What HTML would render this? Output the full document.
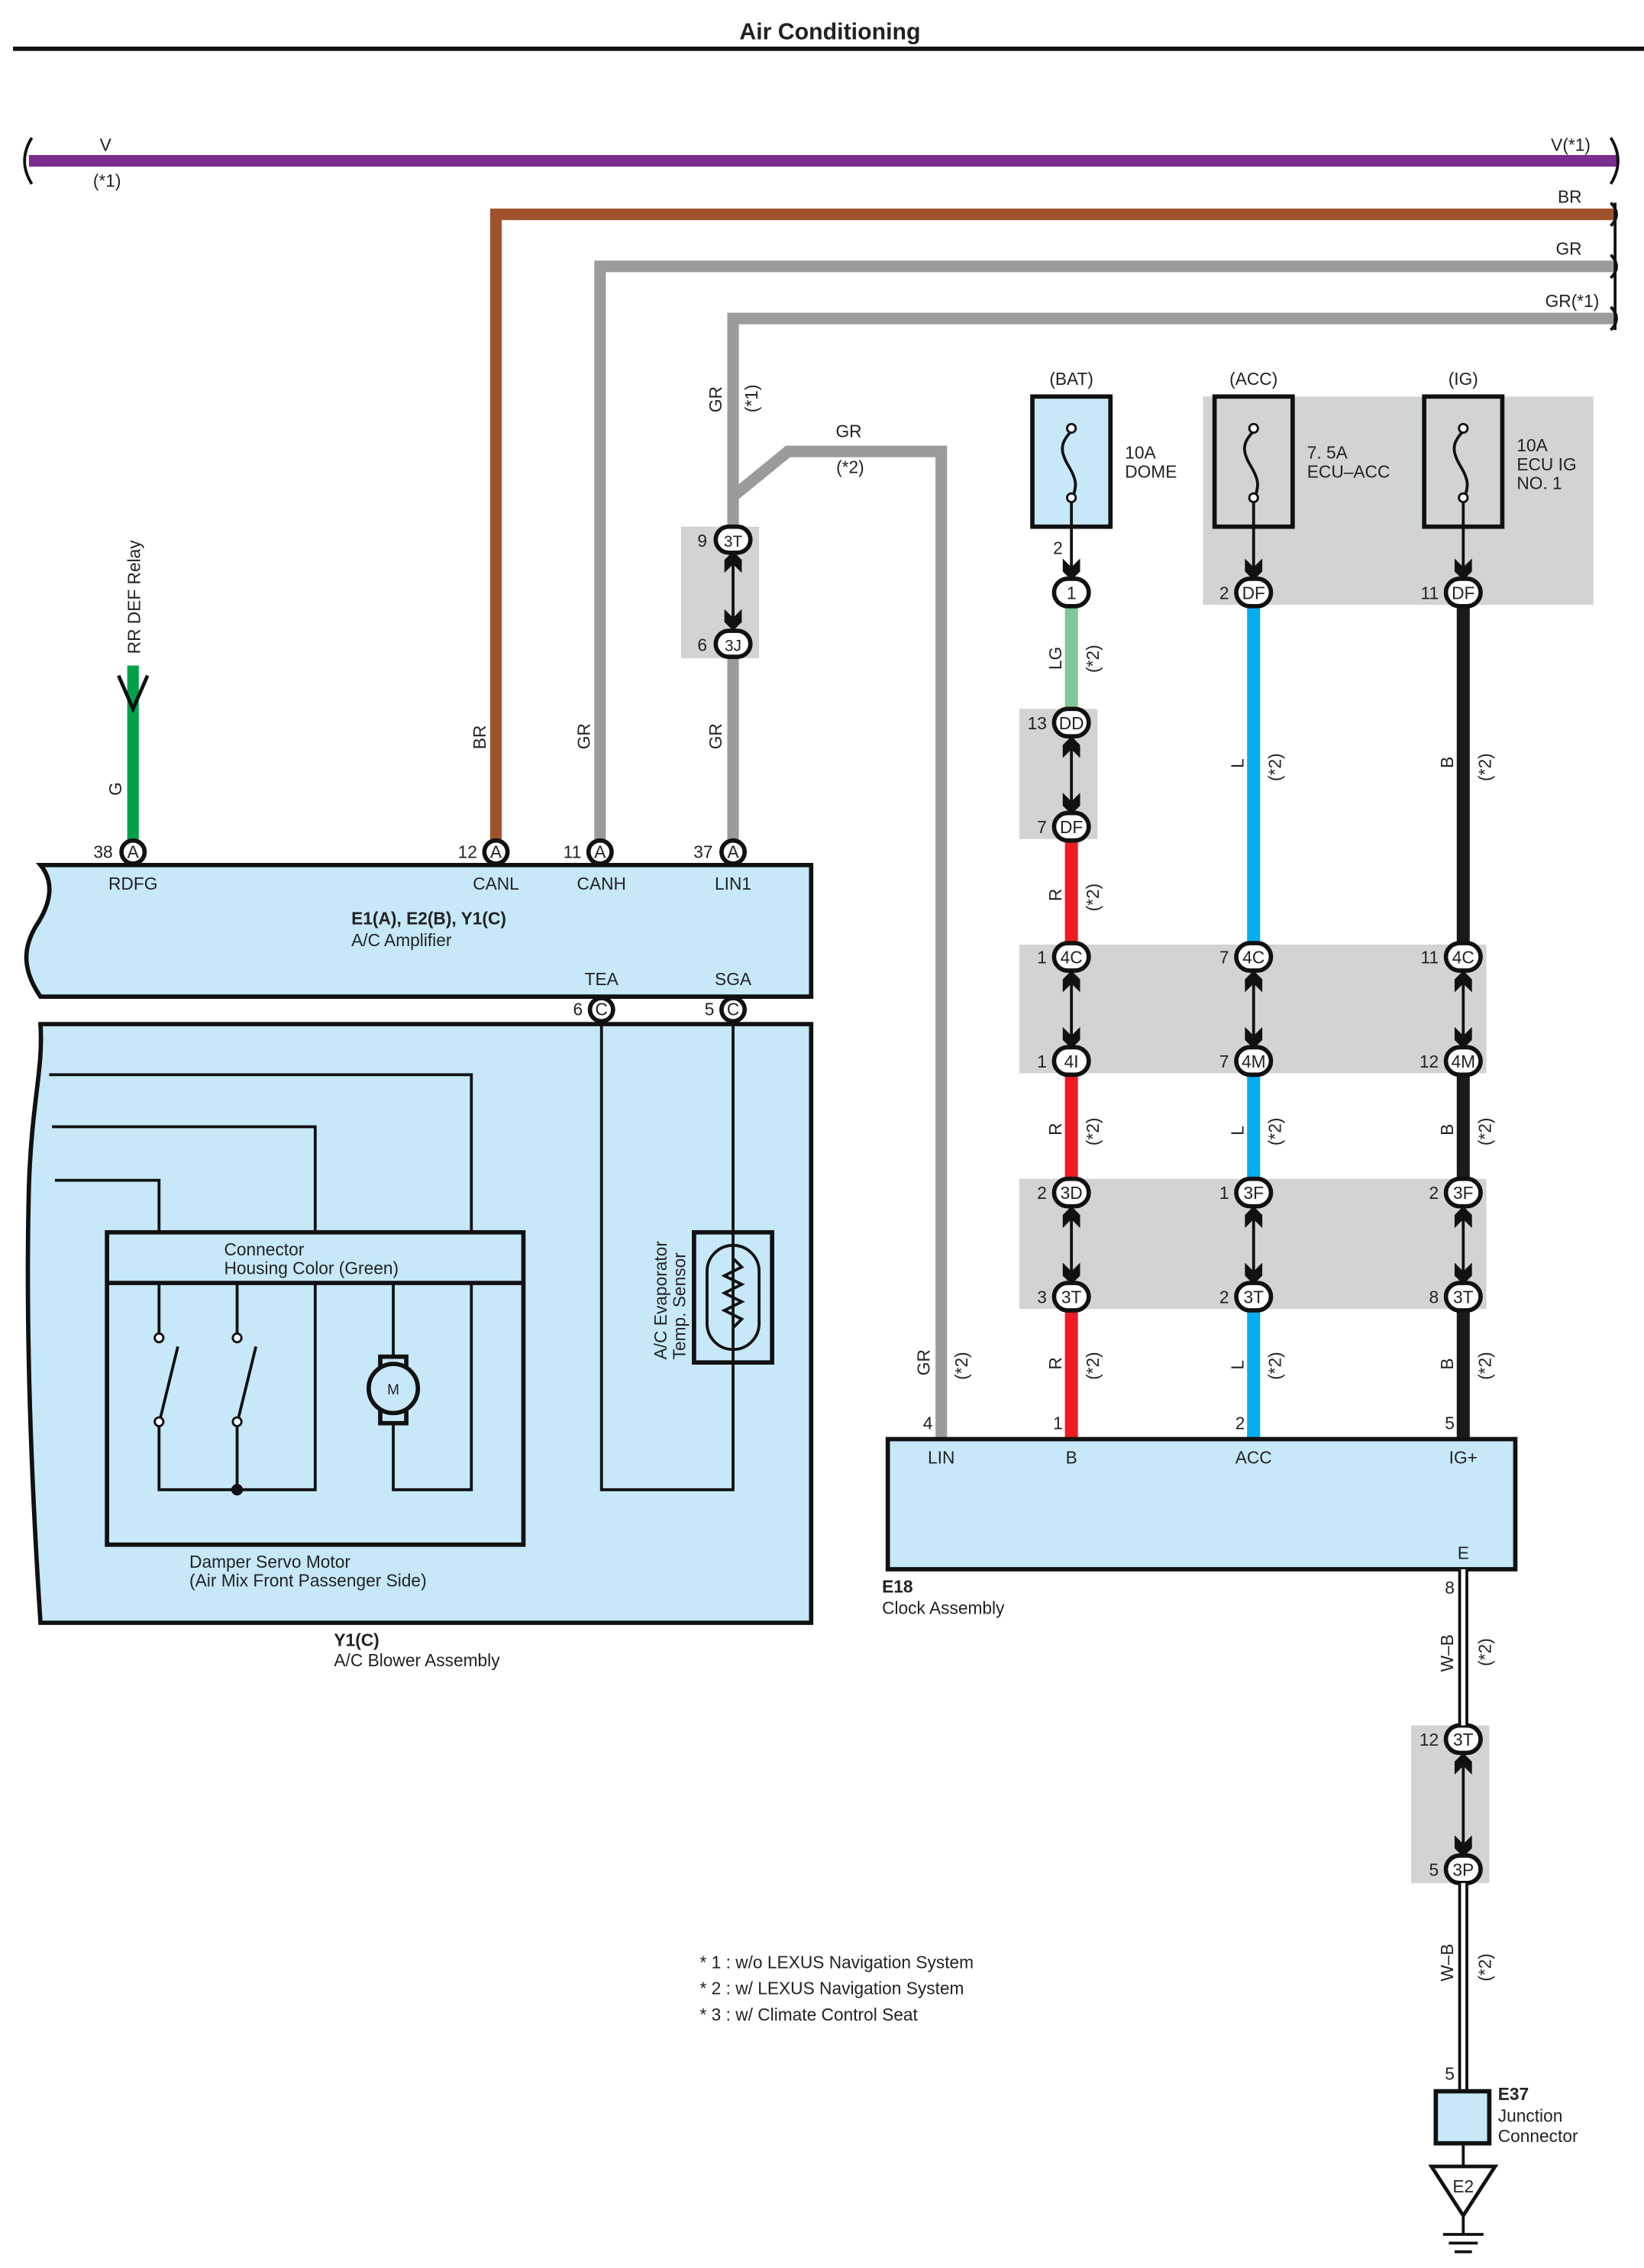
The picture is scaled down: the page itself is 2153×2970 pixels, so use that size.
<!DOCTYPE html>
<html><head><meta charset="utf-8"><style>
html,body{margin:0;padding:0;background:#fff}
svg{display:block}
text{font-family:"Liberation Sans",Arial,sans-serif;font-size:12px;fill:#222}
.c{text-anchor:middle}
.r{text-anchor:end}
.b{font-weight:bold}
</style></head><body>
<svg width="2153" height="2970" viewBox="0 0 1137 1568" xmlns="http://www.w3.org/2000/svg">
<defs>
<path id="dn" d="M-6,-14 L0,-8 L6,-14 L6,-5 L0,1 L-6,-5 Z" fill="#111"/>
<path id="up" d="M-6,14 L0,8 L6,14 L6,5 L0,-1 L-6,5 Z" fill="#111"/>
</defs>
<text x="574" y="27" class="c b" style="font-size:16px">Air Conditioning</text>
<rect x="9" y="32" width="1128" height="3" fill="#111"/>

<g fill="#d1d3d4">
<rect x="832" y="274" width="270" height="144"/>
<rect x="471" y="364" width="54" height="91"/>
<rect x="705" y="490" width="54" height="90"/>
<rect x="705" y="653" width="323" height="89"/>
<rect x="705" y="815" width="323" height="90"/>
<rect x="976" y="1193" width="54" height="109"/>
</g>

<path d="M20,111 H1118" stroke="#7b2c8c" stroke-width="8" fill="none"/>
<path d="M22,95 q-10,16 0,32 M1114,95 q10,16 0,32" stroke="#111" stroke-width="2" fill="none"/>
<path d="M343,583 V148 H1118" stroke="#a0522d" stroke-width="8" fill="none"/>
<path d="M415,583 V184 H1118" stroke="#9b9b9b" stroke-width="8" fill="none"/>
<path d="M507,365 V220 H1118" stroke="#9b9b9b" stroke-width="8" fill="none"/>
<path d="M507,343 L545,312 H651 V995" stroke="#9b9b9b" stroke-width="8" fill="none"/>
<path d="M507,452 V583" stroke="#9b9b9b" stroke-width="8" fill="none"/>
<path d="M1114,140 q8,8 0,16 M1114,176 q8,8 0,16 M1114,212 q8,8 0,16 M1117,140 v88" stroke="#111" stroke-width="2" fill="none"/>
<text x="73" y="104" class="c">V</text>
<text x="74" y="129" class="c">(*1)</text>
<text x="1100" y="104" class="r">V(*1)</text>
<text x="1094" y="140" class="r">BR</text>
<text x="1094" y="176" class="r">GR</text>
<text x="1106" y="212" class="r">GR(*1)</text>
<text x="587" y="302" class="c">GR</text>
<text x="588" y="327" class="c">(*2)</text>

<path d="M92,583 V460" stroke="#00a14b" stroke-width="8" fill="none"/>
<path d="M82,467 L92,490 L102,467" stroke="#111" stroke-width="2.5" fill="none"/>
<text transform="translate(97,452) rotate(-90)">RR DEF Relay</text>
<text transform="translate(84,550) rotate(-90)">G</text>
<text transform="translate(336,518) rotate(-90)">BR</text>
<text transform="translate(408,518) rotate(-90)">GR</text>
<text transform="translate(499,518) rotate(-90)">GR</text>
<text transform="translate(499,285) rotate(-90)">GR</text>
<text transform="translate(524,285) rotate(-90)">(*1)</text>

<g stroke="#111" stroke-width="2"><line x1="507" y1="380" x2="507" y2="436"/></g>
<use href="#up" x="507" y="382"/><use href="#dn" x="507" y="435"/>
<rect x="495" y="364" width="24" height="18" rx="9" fill="#fff" stroke="#111" stroke-width="3"/>
<text x="507" y="378" class="c" style="font-size:11px">3T</text><text x="489" y="378" class="r">9</text>
<rect x="495" y="436" width="24" height="18" rx="9" fill="#fff" stroke="#111" stroke-width="3"/>
<text x="507" y="450" class="c" style="font-size:11px">3J</text><text x="489" y="450" class="r">6</text>

<path d="M28,598 H561 V689 H28 C15,670 16,655 25,640 C35,625 38,610 28,598 Z" fill="#c6e8f8" stroke="#111" stroke-width="3"/>
<g fill="#fff" stroke="#111" stroke-width="3">
<circle cx="92" cy="589" r="8"/><circle cx="343" cy="589" r="8"/><circle cx="415" cy="589" r="8"/><circle cx="507" cy="589" r="8"/>
<circle cx="416" cy="698" r="8"/><circle cx="507" cy="698" r="8"/>
</g>
<g style="font-size:10px" class="c"><text x="92" y="593">A</text><text x="343" y="593">A</text><text x="415" y="593">A</text><text x="507" y="593">A</text><text x="416" y="702">C</text><text x="507" y="702">C</text></g>
<text x="78" y="593" class="r">38</text><text x="330" y="593" class="r">12</text><text x="402" y="593" class="r">11</text><text x="493" y="593" class="r">37</text>
<text x="403" y="702" class="r">6</text><text x="494" y="702" class="r">5</text>
<text x="92" y="615" class="c">RDFG</text><text x="343" y="615" class="c">CANL</text><text x="416" y="615" class="c">CANH</text><text x="507" y="615" class="c">LIN1</text>
<text x="243" y="639" class="b">E1(A), E2(B), Y1(C)</text><text x="243" y="654">A/C Amplifier</text>
<text x="416" y="681" class="c">TEA</text><text x="507" y="681" class="c">SGA</text>

<path d="M28,708 H561 V1122 H28 C20,1000 18,900 20,820 C22,760 30,740 28,708 Z" fill="#c6e8f8" stroke="#111" stroke-width="3"/>
<g fill="none" stroke="#111" stroke-width="2">
<path d="M34,743 H326 V852"/><path d="M36,779 H218 V852"/><path d="M38,816 H110 V852"/>
<rect x="74" y="852" width="288" height="216" stroke-width="3"/>
<line x1="74" y1="887" x2="362" y2="887" stroke-width="3"/>
<path d="M110,887 V925 M110,983 V1030 H218 V887 M164,887 V925 M164,983 V1030"/>
<path d="M111,980 L123,931 M165,980 L177,931"/>
<path d="M272,887 V937 M272,983 V1030 H326 V887"/>
<path d="M416,706 V1030 H507 V706"/>
<rect x="480" y="852" width="54" height="90" stroke-width="3"/>
<rect x="489" y="861" width="36" height="72" rx="18"/>
<path d="M507,870 l6,6 l-12,6 l12,6 l-12,6 l12,6 l-12,6 l12,6 l-6,6"/>
</g>
<g fill="#fff" stroke="#111" stroke-width="1.5"><circle cx="110" cy="925" r="3"/><circle cx="110" cy="983" r="3"/><circle cx="164" cy="925" r="3"/><circle cx="164" cy="983" r="3"/></g>
<circle cx="164" cy="1030" r="4" fill="#111"/>
<rect x="263" y="938" width="18" height="46" fill="none" stroke="#111" stroke-width="3"/>
<circle cx="272" cy="960" r="17" fill="#c6e8f8" stroke="#111" stroke-width="3"/>
<text x="272" y="964" class="c" style="font-size:10px">M</text>
<text x="155" y="868">Connector</text><text x="155" y="881">Housing Color (Green)</text>
<text x="131" y="1084">Damper Servo Motor</text><text x="131" y="1097">(Air Mix Front Passenger Side)</text>
<text transform="translate(461,940) rotate(-90)">A/C Evaporator</text>
<text transform="translate(474,940) rotate(-90)">Temp.  Sensor</text>
<text x="231" y="1138" class="b">Y1(C)</text><text x="231" y="1152">A/C Blower Assembly</text>

<g stroke="#111" stroke-width="3">
<rect x="714" y="274" width="54" height="90" fill="#c6e8f8"/>
<rect x="840" y="274" width="54" height="90" fill="#d1d3d4"/>
<rect x="985" y="274" width="54" height="90" fill="#d1d3d4"/>
</g>
<g fill="none" stroke="#111" stroke-width="2">
<path d="M741,298 c-8,8 -8,14 -2,24 c6,10 6,14 2,24"/>
<path d="M867,298 c-8,8 -8,14 -2,24 c6,10 6,14 2,24"/>
<path d="M1012,298 c-8,8 -8,14 -2,24 c6,10 6,14 2,24"/>
<path d="M741,346 V398 M867,346 V398 M1012,346 V398"/>
</g>
<g fill="#fff" stroke="#111" stroke-width="1.5">
<circle cx="741" cy="296" r="3"/><circle cx="741" cy="344" r="3"/><circle cx="867" cy="296" r="3"/><circle cx="867" cy="344" r="3"/><circle cx="1012" cy="296" r="3"/><circle cx="1012" cy="344" r="3"/></g>
<use href="#dn" x="741" y="400"/><use href="#dn" x="867" y="400"/><use href="#dn" x="1012" y="400"/>
<text x="741" y="266" class="c">(BAT)</text><text x="867" y="266" class="c">(ACC)</text><text x="1012" y="266" class="c">(IG)</text>
<text x="778" y="317">10A</text><text x="778" y="330">DOME</text>
<text x="904" y="317">7. 5A</text><text x="904" y="330">ECU–ACC</text>
<text x="1049" y="312">10A</text><text x="1049" y="325">ECU IG</text><text x="1049" y="338">NO. 1</text>
<text x="735" y="383" class="r">2</text>

<g fill="none" stroke-width="9">
<path d="M741,418 V492" stroke="#7dc79a"/>
<path d="M741,580 V655 M741,742 V818 M741,905 V995" stroke="#ed1c24"/>
<path d="M867,418 V655 M867,742 V818 M867,905 V995" stroke="#00aeef"/>
<path d="M1012,418 V655 M1012,742 V818 M1012,905 V995" stroke="#1a1a1a"/>
</g>
<g stroke="#111" stroke-width="2">
<line x1="741" y1="516" x2="741" y2="562"/>
<line x1="741" y1="679" x2="741" y2="725"/><line x1="867" y1="679" x2="867" y2="725"/><line x1="1012" y1="679" x2="1012" y2="725"/>
<line x1="741" y1="842" x2="741" y2="888"/><line x1="867" y1="842" x2="867" y2="888"/><line x1="1012" y1="842" x2="1012" y2="888"/>
<line x1="1012" y1="1220" x2="1012" y2="1284"/>
</g>
<g>
<use href="#up" x="741" y="510"/><use href="#dn" x="741" y="562"/>
<use href="#up" x="741" y="672"/><use href="#dn" x="741" y="724"/>
<use href="#up" x="867" y="672"/><use href="#dn" x="867" y="724"/>
<use href="#up" x="1012" y="672"/><use href="#dn" x="1012" y="724"/>
<use href="#up" x="741" y="835"/><use href="#dn" x="741" y="887"/>
<use href="#up" x="867" y="835"/><use href="#dn" x="867" y="887"/>
<use href="#up" x="1012" y="835"/><use href="#dn" x="1012" y="887"/>
<use href="#up" x="1012" y="1213"/><use href="#dn" x="1012" y="1283"/>
</g>
<g fill="#fff" stroke="#111" stroke-width="3">
<rect x="729" y="400" width="24" height="19" rx="9.5"/>
<rect x="855" y="400" width="24" height="19" rx="9.5"/><rect x="1000" y="400" width="24" height="19" rx="9.5"/>
<rect x="729" y="490" width="24" height="19" rx="9.5"/><rect x="729" y="562" width="24" height="19" rx="9.5"/>
<rect x="729" y="652" width="24" height="19" rx="9.5"/><rect x="855" y="652" width="24" height="19" rx="9.5"/><rect x="1000" y="652" width="24" height="19" rx="9.5"/>
<rect x="729" y="724" width="24" height="19" rx="9.5"/><rect x="855" y="724" width="24" height="19" rx="9.5"/><rect x="1000" y="724" width="24" height="19" rx="9.5"/>
<rect x="729" y="815" width="24" height="19" rx="9.5"/><rect x="855" y="815" width="24" height="19" rx="9.5"/><rect x="1000" y="815" width="24" height="19" rx="9.5"/>
<rect x="729" y="887" width="24" height="19" rx="9.5"/><rect x="855" y="887" width="24" height="19" rx="9.5"/><rect x="1000" y="887" width="24" height="19" rx="9.5"/>
<rect x="1000" y="1193" width="24" height="19" rx="9.5"/><rect x="1000" y="1283" width="24" height="19" rx="9.5"/>
</g>
<g class="c" style="font-size:11px">
<text x="741" y="414" class="c">1</text><text x="867" y="414" class="c">DF</text><text x="1012" y="414" class="c">DF</text>
<text x="741" y="504" class="c">DD</text><text x="741" y="576" class="c">DF</text>
<text x="741" y="666" class="c">4C</text><text x="867" y="666" class="c">4C</text><text x="1012" y="666" class="c">4C</text>
<text x="741" y="738" class="c">4I</text><text x="867" y="738" class="c">4M</text><text x="1012" y="738" class="c">4M</text>
<text x="741" y="829" class="c">3D</text><text x="867" y="829" class="c">3F</text><text x="1012" y="829" class="c">3F</text>
<text x="741" y="901" class="c">3T</text><text x="867" y="901" class="c">3T</text><text x="1012" y="901" class="c">3T</text>
<text x="1012" y="1207" class="c">3T</text><text x="1012" y="1297" class="c">3P</text>
</g>
<g class="r">
<text x="850" y="414" class="r">2</text><text x="995" y="414" class="r">11</text>
<text x="724" y="504" class="r">13</text><text x="724" y="576" class="r">7</text>
<text x="724" y="666" class="r">1</text><text x="850" y="666" class="r">7</text><text x="995" y="666" class="r">11</text>
<text x="724" y="738" class="r">1</text><text x="850" y="738" class="r">7</text><text x="995" y="738" class="r">12</text>
<text x="724" y="829" class="r">2</text><text x="850" y="829" class="r">1</text><text x="995" y="829" class="r">2</text>
<text x="724" y="901" class="r">3</text><text x="850" y="901" class="r">2</text><text x="995" y="901" class="r">8</text>
<text x="995" y="1207" class="r">12</text><text x="995" y="1297" class="r">5</text>
</g>
<g>
<text transform="translate(734,463) rotate(-90)">LG</text><text transform="translate(760,465) rotate(-90)">(*2)</text>
<text transform="translate(734,623) rotate(-90)">R</text><text transform="translate(760,630) rotate(-90)">(*2)</text>
<text transform="translate(734,785) rotate(-90)">R</text><text transform="translate(760,792) rotate(-90)">(*2)</text>
<text transform="translate(734,947) rotate(-90)">R</text><text transform="translate(760,954) rotate(-90)">(*2)</text>
<text transform="translate(860,531) rotate(-90)">L</text><text transform="translate(886,540) rotate(-90)">(*2)</text>
<text transform="translate(860,785) rotate(-90)">L</text><text transform="translate(886,792) rotate(-90)">(*2)</text>
<text transform="translate(860,947) rotate(-90)">L</text><text transform="translate(886,954) rotate(-90)">(*2)</text>
<text transform="translate(1005,531) rotate(-90)">B</text><text transform="translate(1031,540) rotate(-90)">(*2)</text>
<text transform="translate(1005,785) rotate(-90)">B</text><text transform="translate(1031,792) rotate(-90)">(*2)</text>
<text transform="translate(1005,947) rotate(-90)">B</text><text transform="translate(1031,954) rotate(-90)">(*2)</text>
<text transform="translate(643,951) rotate(-90)">GR</text><text transform="translate(669,954) rotate(-90)">(*2)</text>
<text transform="translate(1005,1156) rotate(-90)">W–B</text><text transform="translate(1031,1152) rotate(-90)">(*2)</text>
<text transform="translate(1005,1370) rotate(-90)">W–B</text><text transform="translate(1031,1370) rotate(-90)">(*2)</text>
</g>

<rect x="614" y="995" width="434" height="90" fill="#c6e8f8" stroke="#111" stroke-width="3"/>
<text x="645" y="988" class="r">4</text><text x="735" y="988" class="r">1</text><text x="861" y="988" class="r">2</text><text x="1006" y="988" class="r">5</text>
<text x="651" y="1012" class="c">LIN</text><text x="741" y="1012" class="c">B</text><text x="867" y="1012" class="c">ACC</text><text x="1012" y="1012" class="c">IG+</text>
<text x="1012" y="1078" class="c">E</text>
<text x="610" y="1101" class="b">E18</text><text x="610" y="1116">Clock Assembly</text>

<path d="M1012,1085 V1193 M1012,1302 V1446" stroke="#111" stroke-width="7" fill="none"/>
<path d="M1012,1085 V1193 M1012,1302 V1446" stroke="#fff" stroke-width="3" fill="none"/>
<text x="1006" y="1102" class="r">8</text><text x="1006" y="1438" class="r">5</text>
<rect x="993" y="1446" width="37" height="36" fill="#c6e8f8" stroke="#111" stroke-width="3"/>
<text x="1036" y="1452" class="b">E37</text><text x="1036" y="1467">Junction</text><text x="1036" y="1481">Connector</text>
<path d="M1012,1482 V1498" stroke="#111" stroke-width="2"/>
<path d="M990,1498 H1034 L1012,1532 Z" fill="#fff" stroke="#111" stroke-width="2.5"/>
<text x="1012" y="1516" class="c">E2</text>
<path d="M1012,1532 V1545 M998,1545 H1026 M1002,1551 H1022 M1006,1557 H1018" stroke="#111" stroke-width="2"/>

<text x="484" y="1361">* 1 : w/o LEXUS Navigation System</text>
<text x="484" y="1379">* 2 : w/ LEXUS Navigation System</text>
<text x="484" y="1397">* 3 : w/ Climate Control Seat</text>
</svg>
</body></html>
